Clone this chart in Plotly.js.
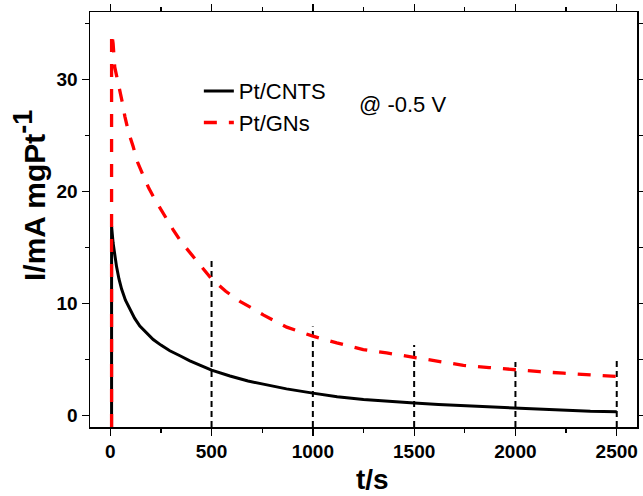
<!DOCTYPE html>
<html>
<head>
<meta charset="utf-8">
<script src="https://cdn.plot.ly/plotly-3.0.1.min.js"></script>
<style>html,body{margin:0;padding:0;background:#fff;}#chart{width:643px;height:496px;}</style>
</head>
<body>
<div id="chart"></div>
<script>
// Pt/CNTS chronoamperometry curve
var timeCNTS = [6.5, 6.5, 10, 14, 22, 31, 43, 56, 75, 97, 120, 146, 178, 212, 250, 294, 344, 393, 445, 500, 591, 680, 755, 870, 1000, 1120, 1250, 1370, 1500, 1620, 1750, 1870, 2000, 2120, 2250, 2370, 2500];
var currentCNTS = [-1, 16.9, 16.2, 15.4, 14.3, 13.3, 12.2, 11.3, 10.3, 9.5, 8.7, 8.0, 7.4, 6.8, 6.3, 5.8, 5.35, 4.9, 4.5, 4.07, 3.55, 3.1, 2.82, 2.4, 2.02, 1.7, 1.45, 1.27, 1.13, 1.0, 0.89, 0.78, 0.66, 0.55, 0.45, 0.4, 0.36];

// Pt/GNs chronoamperometry curve
var timeGNs = [6.5, 6.5, 10, 14, 22, 35, 47, 60, 72, 90, 113, 135, 163, 190, 220, 250, 278, 310, 350, 394, 450, 500, 570, 640, 700, 755, 871, 1000, 1118, 1249, 1364, 1500, 1620, 1743, 1870, 1990, 2120, 2237, 2370, 2500];
var currentGNs = [-1, 34.1, 33.7, 33.2, 31.1, 30.0, 29.1, 27.9, 26.7, 25.3, 24.0, 22.6, 21.4, 20.3, 19.3, 18.4, 17.5, 16.6, 15.5, 14.5, 13.3, 12.2, 11.1, 10.2, 9.6, 9.0, 7.9, 7.1, 6.5, 5.9, 5.6, 5.2, 4.85, 4.5, 4.3, 4.1, 3.93, 3.8, 3.63, 3.5];

// vertical dashed guide lines
var guideTimes = [500, 1000, 1500, 2000, 2500];
var guideTops = [14.0, 7.95, 6.3, 4.8, 5.1];
var guideBottom = -1;

var gx = [], gy = [];
for (var i = 0; i < guideTimes.length; i++) {
  gx.push(guideTimes[i], guideTimes[i], null);
  gy.push(guideBottom, guideTops[i], null);
}

var font = 'Arial, "Liberation Sans", sans-serif';

var traces = [
  {x: gx, y: gy, mode: 'lines', showlegend: false, hoverinfo: 'skip',
   line: {color: '#000', width: 2, dash: '6px,4px'}},
  {x: timeCNTS, y: currentCNTS, mode: 'lines', name: 'Pt/CNTS',
   line: {color: '#000', width: 3}},
  {x: timeGNs, y: currentGNs, mode: 'lines', name: 'Pt/GNs',
   line: {color: '#ff0000', width: 3.3, dash: '13px,12px'}}
];

var layout = {
  width: 643, height: 496,
  margin: {l: 90, r: 6, t: 12, b: 69},
  paper_bgcolor: '#fff', plot_bgcolor: '#fff',
  font: {family: font, color: '#000'},
  showlegend: true,
  legend: {x: 0.199, y: 0.86, xanchor: 'left', yanchor: 'top',
           bgcolor: 'rgba(0,0,0,0)', font: {size: 22, family: font},
           tracegroupgap: 0, itemwidth: 30},
  xaxis: {
    range: [-100, 2600], showgrid: false, zeroline: false,
    showline: true, linecolor: '#000', linewidth: 1.5, mirror: 'allticks',
    ticks: 'outside', ticklen: 7, tickwidth: 1.3, tickcolor: '#000',
    tickvals: [0, 500, 1000, 1500, 2000, 2500],
    tickfont: {size: 19, family: font, weight: 'bold'},
    minor: {dtick: 250, tick0: 0, ticks: 'outside', ticklen: 4, tickcolor: '#000', tickwidth: 1.2}
  },
  yaxis: {
    range: [-1, 36], showgrid: false, zeroline: false,
    showline: true, linecolor: '#000', linewidth: 1.5, mirror: 'allticks',
    ticks: 'outside', ticklen: 7, tickwidth: 1.3, tickcolor: '#000',
    tickvals: [0, 10, 20, 30],
    tickfont: {size: 19, family: font, weight: 'bold'},
    minor: {dtick: 5, tick0: 0, ticks: 'outside', ticklen: 4, tickcolor: '#000', tickwidth: 1.2}
  },
  annotations: [
    {xref: 'paper', yref: 'paper', x: 0.488, y: 0.776, xanchor: 'left', yanchor: 'middle',
     text: '@ -0.5 V', showarrow: false, font: {size: 22, family: font}},
    {xref: 'paper', yref: 'paper', x: (372 - 90) / 547, y: -(479 - 427) / 415,
     xanchor: 'center', yanchor: 'middle', showarrow: false,
     text: 't/s', font: {size: 28, family: font, weight: 'bold'}},
    {xref: 'paper', yref: 'paper', x: (29 - 90) / 547, y: (427 - 196) / 415,
     xanchor: 'center', yanchor: 'middle', showarrow: false, textangle: -90,
     text: 'I/mA mgPt<sup><span style="font-size:27px">-1</span></sup>',
     font: {size: 30, family: font, weight: 'bold'}}
  ]
};

Plotly.newPlot('chart', traces, layout, {displayModeBar: false, staticPlot: true});
</script>
</body>
</html>
